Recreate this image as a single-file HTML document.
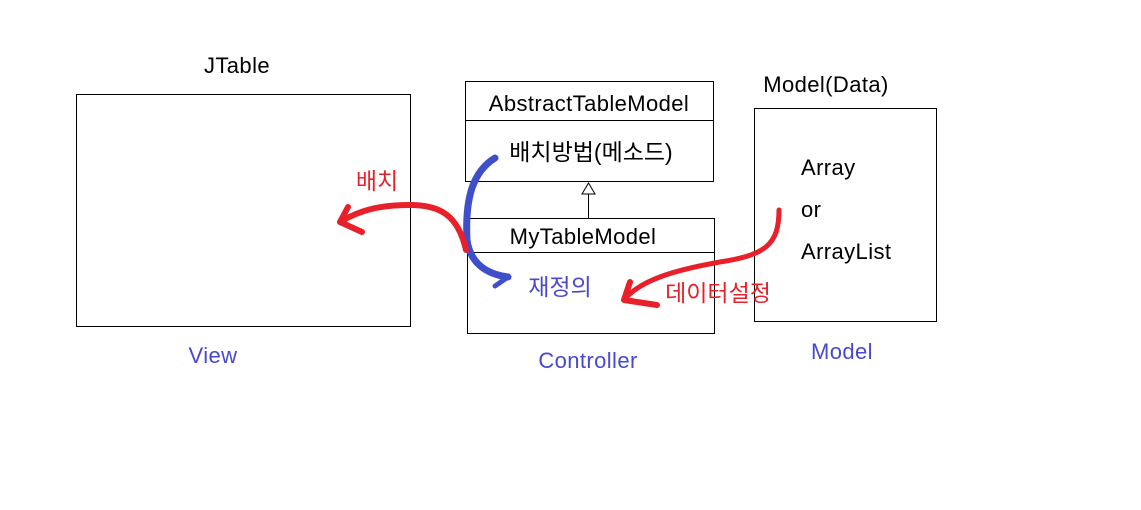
<!DOCTYPE html>
<html><head><meta charset="utf-8"><style>
html,body{margin:0;padding:0;background:#fff;}
svg{display:block;}
text{font-family:"Liberation Sans","Noto Sans CJK KR",sans-serif;font-size:22px;letter-spacing:0.4px;}
text.k{font-size:23px;letter-spacing:0;}
</style></head><body>
<svg width="1141" height="510" viewBox="0 0 1141 510">
<rect x="0" y="0" width="1141" height="510" fill="#fff"/>
<g fill="none" stroke="#000" stroke-width="1">
<rect x="76.5" y="94.5" width="334" height="232"/>
<rect x="465.5" y="81.5" width="248" height="100"/>
<line x1="465" y1="120.5" x2="713" y2="120.5"/>
<rect x="467.5" y="218.5" width="247" height="115"/>
<line x1="467" y1="252.5" x2="714" y2="252.5"/>
<rect x="754.5" y="108.5" width="182" height="213"/>
<line x1="588.5" y1="194" x2="588.5" y2="218"/>
<polygon points="588.5,183 582,194 595,194" fill="#fff"/>
</g>
<g fill="#000">
<text x="237" y="73" text-anchor="middle">JTable</text>
<text x="826" y="92" text-anchor="middle">Model(Data)</text>
<text x="589" y="111" text-anchor="middle">AbstractTableModel</text>
<text class="k" x="591" y="160" text-anchor="middle">배치방법(메소드)</text>
<text x="583" y="244" text-anchor="middle">MyTableModel</text>
<text x="801" y="175">Array</text>
<text x="801" y="217">or</text>
<text x="801" y="259">ArrayList</text>
</g>
<g fill="#4848d0">
<text class="k" x="560" y="295" text-anchor="middle">재정의</text>
<text x="213" y="363" text-anchor="middle">View</text>
<text x="588" y="368" text-anchor="middle">Controller</text>
<text x="842" y="359" text-anchor="middle">Model</text>
</g>
<g fill="#e8202a">
<text class="k" x="377" y="189" text-anchor="middle">배치</text>
<text class="k" x="718" y="301" text-anchor="middle">데이터설정</text>
</g>
<g fill="none" stroke-linecap="round" stroke-linejoin="round">
<path d="M495,158 C472,172 465,200 467,240 C470,262 485,274 508,277" stroke="#3f4fcc" stroke-width="7"/>
<path d="M508,277 L495,286" stroke="#3f4fcc" stroke-width="5"/>
<path d="M466,250 C458,215 440,205 410,205 C380,205 360,210 340,222" stroke="#e8202a" stroke-width="6"/>
<path d="M340,222 L362,232 M340,222 L348,207" stroke="#e8202a" stroke-width="6"/>
<path d="M779,210 C779,245 765,255 720,262 C675,270 640,280 624,300" stroke="#e8202a" stroke-width="5"/>
<path d="M624,300 L657,305 M624,300 L630,282" stroke="#e8202a" stroke-width="6"/>
</g>
</svg>
</body></html>
